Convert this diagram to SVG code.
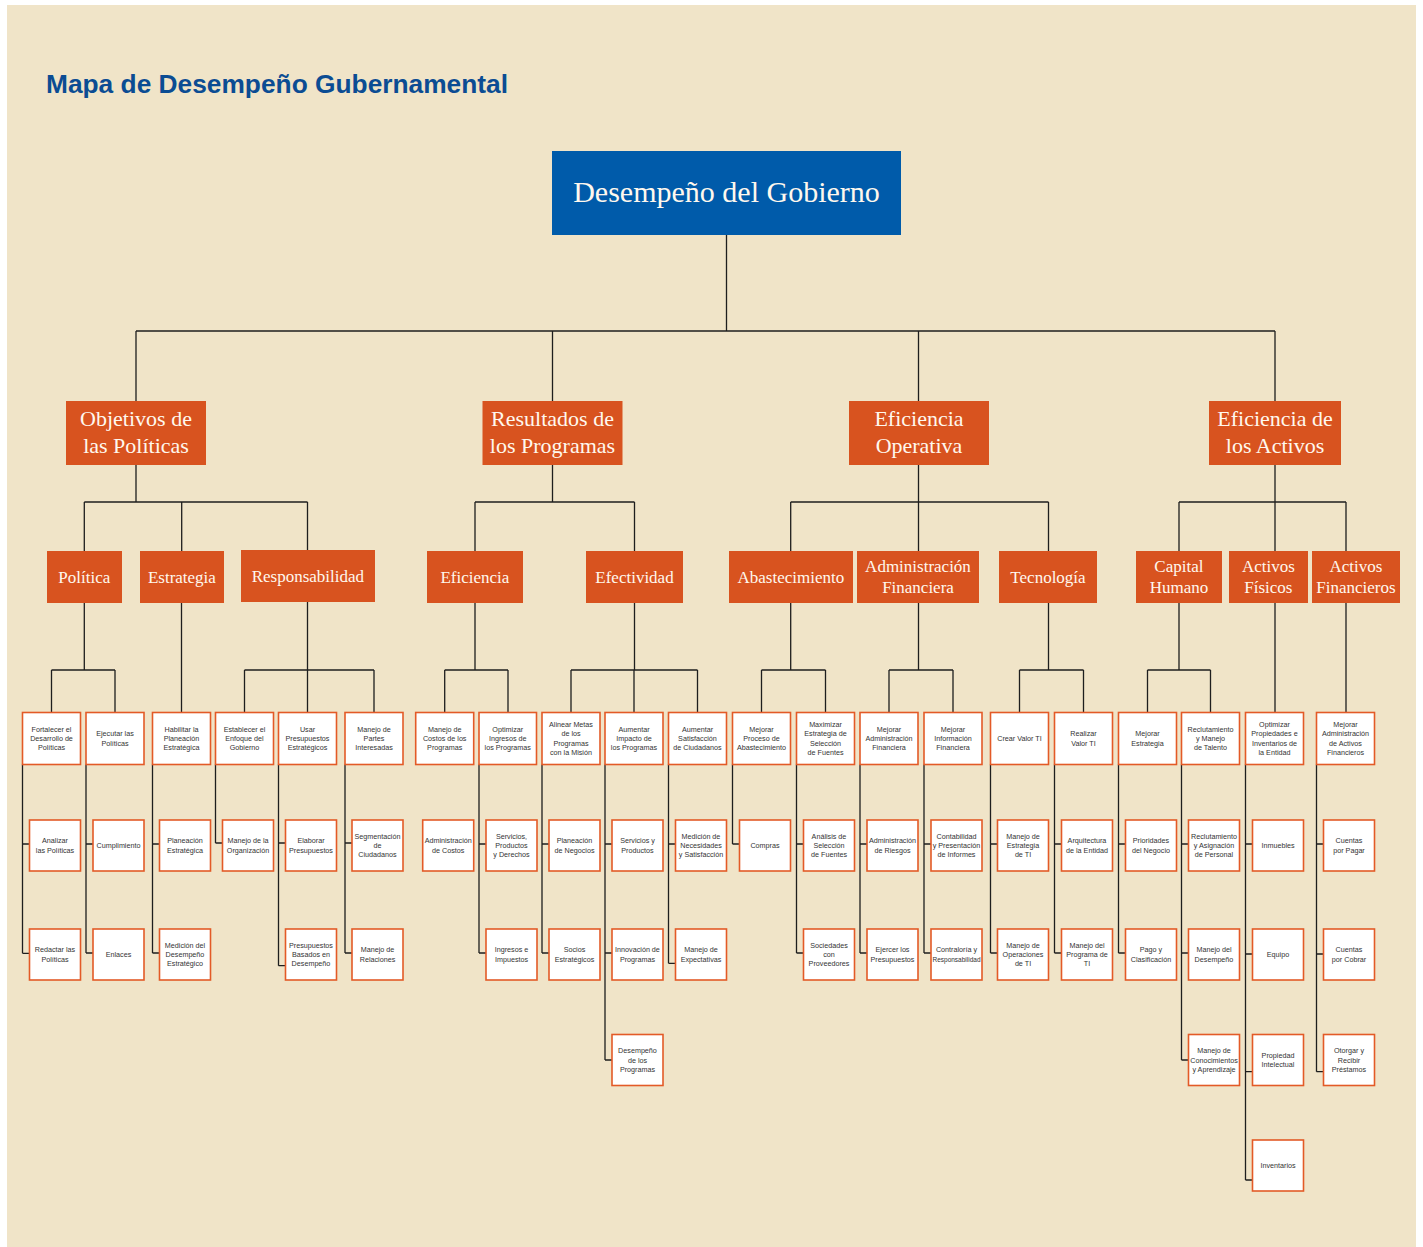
<svg xmlns="http://www.w3.org/2000/svg" width="1423" height="1247" viewBox="0 0 1423 1247">
<style>
.con{fill:none;stroke:#1e1e1e;stroke-width:1.3}
.box{fill:#ffffff;stroke:#E35A27;stroke-width:1.6}
.or{fill:#D8531F}
.sf{font-family:"Liberation Serif","Times New Roman",serif;fill:#FFF8EE;text-anchor:middle}
.l1{font-size:22px}
.l2{font-size:17px}
.t{font-family:"Liberation Sans",Arial,sans-serif;font-size:7.2px;fill:#333333;text-anchor:middle}
</style>
<rect x="0" y="0" width="1423" height="1247" fill="#ffffff"/>
<rect x="7" y="5" width="1409" height="1242" fill="#F0E4C8"/>
<text x="46" y="93" font-family="Liberation Sans, Arial, sans-serif" font-weight="bold" font-size="26.3" fill="#0B4C93" textLength="462">Mapa de Desempeño Gubernamental</text>

<g id="connectors" class="con">
<path d="M726.5,235V331M136,331H1275M136,331V401M552.5,331V401M918.5,331V401M1275,331V401"/>
<path d="M136,465V502M84.3,502H307.5M84.3,502V551M181.7,502V551M307.5,502V550"/>
<path d="M552.5,465V502M475,502H634.5M475,502V551M634.5,502V551"/>
<path d="M918.5,465V502M790.7,502H1048.5M790.7,502V551M918.5,502V551M1048.5,502V551"/>
<path d="M1275,465V502M1179,502H1346M1179,502V551M1275,502V551M1346,502V551"/>
<path d="M84.3,602.7V670M51.5,670H115M51.5,670V712.5M115,670V712.5"/>
<path d="M181.5,602.7V712.5"/>
<path d="M307.5,601.7V670M244.5,670H374M244.5,670V712.5M307.5,670V712.5M374,670V712.5"/>
<path d="M475,602.7V670M444.7,670H508M444.7,670V712.5M508,670V712.5"/>
<path d="M634.5,602.7V670M571,670H697.5M571,670V712.5M634,670V712.5M697.5,670V712.5"/>
<path d="M790.7,602.7V670M761.5,670H825.5M761.5,670V712.5M825.5,670V712.5"/>
<path d="M918.5,602.7V670M889,670H953M889,670V712.5M953,670V712.5"/>
<path d="M1048.5,602.7V670M1019.5,670H1083.5M1019.5,670V712.5M1083.5,670V712.5"/>
<path d="M1179,602.7V670M1147.5,670H1210.5M1147.5,670V712.5M1210.5,670V712.5"/>
<path d="M1275,602.7V712.5"/>
<path d="M1346,602.7V712.5"/>
<path d="M22.5,764.5V953.3M22.5,844H29.5M22.5,953.3H29.5"/>
<path d="M86,764.5V953M86,844H93M86,953H93"/>
<path d="M152.5,764.5V953M152.5,844H159.5M152.5,953H159.5"/>
<path d="M215.5,764.5V843M215.5,843H222.5"/>
<path d="M278.5,764.5V965.7M278.5,843H285.5M278.5,965.7H285.5"/>
<path d="M345,764.5V953M345,843H352M345,953H352"/>
<path d="M479,764.5V953M479,844H486M479,953H486"/>
<path d="M542,764.5V953M542,844H549M542,953H549"/>
<path d="M605,764.5V1060M605,844H612M605,953H612M605,1060H612"/>
<path d="M668.5,764.5V963.3M668.5,844H675.5M668.5,963.3H675.5"/>
<path d="M732.5,764.5V844M732.5,844H739.5"/>
<path d="M796.5,764.5V953M796.5,844H803.5M796.5,953H803.5"/>
<path d="M860,764.5V953M860,844H867M860,953H867"/>
<path d="M924,764.5V953M924,844H931M924,953H931"/>
<path d="M990.5,764.5V953M990.5,844H997.5M990.5,953H997.5"/>
<path d="M1054.5,764.5V953M1054.5,844H1061.5M1054.5,953H1061.5"/>
<path d="M1118.5,764.5V953M1118.5,844H1125.5M1118.5,953H1125.5"/>
<path d="M1181.5,764.5V1060M1181.5,844H1188.5M1181.5,953H1188.5M1181.5,1060H1188.5"/>
<path d="M1245.5,764.5V1180M1245.5,844H1252.5M1245.5,954H1252.5M1245.5,1071.7H1252.5M1245.5,1180H1252.5"/>
<path d="M1316.5,764.5V1071.7M1316.5,844H1323.5M1316.5,954H1323.5M1316.5,1071.7H1323.5"/>
</g>

<g id="root">
<rect x="552" y="151" width="349" height="84" fill="#005BAA"/>
<text class="sf" x="726.5" y="201.5" font-size="30">Desempeño del Gobierno</text>
</g>

<g id="objetivos"><rect class="or" x="66" y="401" width="140" height="64"/><text class="sf l1"><tspan x="136" y="425.7">Objetivos de</tspan><tspan x="136" y="453">las Políticas</tspan></text></g>
<g id="resultados"><rect class="or" x="482.5" y="401" width="140" height="64"/><text class="sf l1"><tspan x="552.5" y="425.7">Resultados de</tspan><tspan x="552.5" y="453">los Programas</tspan></text></g>
<g id="eficiencia-operativa"><rect class="or" x="849" y="401" width="140" height="64"/><text class="sf l1"><tspan x="919" y="425.7">Eficiencia</tspan><tspan x="919" y="453">Operativa</tspan></text></g>
<g id="eficiencia-activos"><rect class="or" x="1209" y="401" width="132" height="64"/><text class="sf l1"><tspan x="1275" y="425.7">Eficiencia de</tspan><tspan x="1275" y="453">los Activos</tspan></text></g>

<g id="politica"><rect class="or" x="47" y="551" width="75" height="52"/><text class="sf l2" x="84.3" y="582.5">Política</text></g>
<g id="estrategia"><rect class="or" x="140" y="551" width="84" height="52"/><text class="sf l2" x="181.9" y="582.5">Estrategia</text></g>
<g id="responsabilidad"><rect class="or" x="241" y="550" width="134" height="52"/><text class="sf l2" x="307.9" y="581.5">Responsabilidad</text></g>
<g id="eficiencia"><rect class="or" x="427" y="551" width="96" height="52"/><text class="sf l2" x="474.9" y="582.5">Eficiencia</text></g>
<g id="efectividad"><rect class="or" x="586" y="551" width="97" height="52"/><text class="sf l2" x="634.5" y="582.5">Efectividad</text></g>
<g id="abastecimiento"><rect class="or" x="729" y="551" width="124" height="52"/><text class="sf l2" x="790.9" y="582.5">Abastecimiento</text></g>
<g id="admin-financiera"><rect class="or" x="857" y="551" width="122" height="52"/><text class="sf l2"><tspan x="918" y="571.7">Administración</tspan><tspan x="918" y="593.3">Financiera</tspan></text></g>
<g id="tecnologia"><rect class="or" x="999" y="551" width="98" height="52"/><text class="sf l2" x="1048" y="582.5">Tecnología</text></g>
<g id="capital-humano"><rect class="or" x="1136" y="551" width="86" height="52"/><text class="sf l2"><tspan x="1178.9" y="571.7">Capital</tspan><tspan x="1178.9" y="593.3">Humano</tspan></text></g>
<g id="activos-fisicos"><rect class="or" x="1229" y="551" width="79" height="52"/><text class="sf l2"><tspan x="1268.4" y="571.7">Activos</tspan><tspan x="1268.4" y="593.3">Físicos</tspan></text></g>
<g id="activos-financieros"><rect class="or" x="1312" y="551" width="88" height="52"/><text class="sf l2"><tspan x="1355.9" y="571.7">Activos</tspan><tspan x="1355.9" y="593.3">Financieros</tspan></text></g>

<g id="p1"><rect class="box" x="22.5" y="712.5" width="58" height="52"/><text class="t"><tspan x="51.5" y="731.8">Fortalecer el</tspan><tspan x="51.5" y="741.1">Desarrollo de</tspan><tspan x="51.5" y="750.4">Políticas</tspan></text></g>
<g id="p2"><rect class="box" x="86" y="712.5" width="58" height="52"/><text class="t"><tspan x="115" y="736.45">Ejecutar las</tspan><tspan x="115" y="745.75">Políticas</tspan></text></g>
<g id="p3"><rect class="box" x="152.5" y="712.5" width="58" height="52"/><text class="t"><tspan x="181.5" y="731.8">Habilitar la</tspan><tspan x="181.5" y="741.1">Planeación</tspan><tspan x="181.5" y="750.4">Estratégica</tspan></text></g>
<g id="p4"><rect class="box" x="215.5" y="712.5" width="58" height="52"/><text class="t"><tspan x="244.5" y="731.8">Establecer el</tspan><tspan x="244.5" y="741.1">Enfoque del</tspan><tspan x="244.5" y="750.4">Gobierno</tspan></text></g>
<g id="p5"><rect class="box" x="278.5" y="712.5" width="58" height="52"/><text class="t"><tspan x="307.5" y="731.8">Usar</tspan><tspan x="307.5" y="741.1">Presupuestos</tspan><tspan x="307.5" y="750.4">Estratégicos</tspan></text></g>
<g id="p6"><rect class="box" x="345" y="712.5" width="58" height="52"/><text class="t"><tspan x="374" y="731.8">Manejo de</tspan><tspan x="374" y="741.1">Partes</tspan><tspan x="374" y="750.4">Interesadas</tspan></text></g>
<g id="p7"><rect class="box" x="415.7" y="712.5" width="58" height="52"/><text class="t"><tspan x="444.7" y="731.8">Manejo de</tspan><tspan x="444.7" y="741.1">Costos de los</tspan><tspan x="444.7" y="750.4">Programas</tspan></text></g>
<g id="p8"><rect class="box" x="479" y="712.5" width="57.5" height="52"/><text class="t"><tspan x="507.75" y="731.8">Optimizar</tspan><tspan x="507.75" y="741.1">Ingresos de</tspan><tspan x="507.75" y="750.4">los Programas</tspan></text></g>
<g id="p9"><rect class="box" x="542" y="712.5" width="58" height="52"/><text class="t"><tspan x="571" y="727.15">Alinear Metas</tspan><tspan x="571" y="736.45">de los</tspan><tspan x="571" y="745.75">Programas</tspan><tspan x="571" y="755.05">con la Misión</tspan></text></g>
<g id="p10"><rect class="box" x="605" y="712.5" width="58" height="52"/><text class="t"><tspan x="634" y="731.8">Aumentar</tspan><tspan x="634" y="741.1">Impacto de</tspan><tspan x="634" y="750.4">los Programas</tspan></text></g>
<g id="p11"><rect class="box" x="668.5" y="712.5" width="58" height="52"/><text class="t"><tspan x="697.5" y="731.8">Aumentar</tspan><tspan x="697.5" y="741.1">Satisfacción</tspan><tspan x="697.5" y="750.4">de Ciudadanos</tspan></text></g>
<g id="p12"><rect class="box" x="732.5" y="712.5" width="58" height="52"/><text class="t"><tspan x="761.5" y="731.8">Mejorar</tspan><tspan x="761.5" y="741.1">Proceso de</tspan><tspan x="761.5" y="750.4">Abastecimiento</tspan></text></g>
<g id="p13"><rect class="box" x="796.5" y="712.5" width="58" height="52"/><text class="t"><tspan x="825.5" y="727.15">Maximizar</tspan><tspan x="825.5" y="736.45">Estrategia de</tspan><tspan x="825.5" y="745.75">Selección</tspan><tspan x="825.5" y="755.05">de Fuentes</tspan></text></g>
<g id="p14"><rect class="box" x="860" y="712.5" width="58" height="52"/><text class="t"><tspan x="889" y="731.8">Mejorar</tspan><tspan x="889" y="741.1">Administración</tspan><tspan x="889" y="750.4">Financiera</tspan></text></g>
<g id="p15"><rect class="box" x="924" y="712.5" width="58" height="52"/><text class="t"><tspan x="953" y="731.8">Mejorar</tspan><tspan x="953" y="741.1">Información</tspan><tspan x="953" y="750.4">Financiera</tspan></text></g>
<g id="p16"><rect class="box" x="990.5" y="712.5" width="58" height="52"/><text class="t" x="1019.5" y="741.1">Crear Valor TI</text></g>
<g id="p17"><rect class="box" x="1054.5" y="712.5" width="58" height="52"/><text class="t"><tspan x="1083.5" y="736.45">Realizar</tspan><tspan x="1083.5" y="745.75">Valor TI</tspan></text></g>
<g id="p18"><rect class="box" x="1118.5" y="712.5" width="58" height="52"/><text class="t"><tspan x="1147.5" y="736.45">Mejorar</tspan><tspan x="1147.5" y="745.75">Estrategia</tspan></text></g>
<g id="p19"><rect class="box" x="1181.5" y="712.5" width="58" height="52"/><text class="t"><tspan x="1210.5" y="731.8">Reclutamiento</tspan><tspan x="1210.5" y="741.1">y Manejo</tspan><tspan x="1210.5" y="750.4">de Talento</tspan></text></g>
<g id="p20"><rect class="box" x="1245.5" y="712.5" width="58" height="52"/><text class="t"><tspan x="1274.5" y="727.15">Optimizar</tspan><tspan x="1274.5" y="736.45">Propiedades e</tspan><tspan x="1274.5" y="745.75">Inventarios de</tspan><tspan x="1274.5" y="755.05">la Entidad</tspan></text></g>
<g id="p21"><rect class="box" x="1316.5" y="712.5" width="58" height="52"/><text class="t"><tspan x="1345.5" y="727.15">Mejorar</tspan><tspan x="1345.5" y="736.45">Administración</tspan><tspan x="1345.5" y="745.75">de Activos</tspan><tspan x="1345.5" y="755.05">Financieros</tspan></text></g>

<g id="l1a"><rect class="box" x="29.5" y="820" width="51" height="51"/><text class="t"><tspan x="55" y="843.45">Analizar</tspan><tspan x="55" y="852.75">las Políticas</tspan></text></g>
<g id="l1b"><rect class="box" x="29.5" y="929" width="51" height="51"/><text class="t"><tspan x="55" y="952.45">Redactar las</tspan><tspan x="55" y="961.75">Políticas</tspan></text></g>
<g id="l2a"><rect class="box" x="93" y="820" width="51" height="51"/><text class="t" x="118.5" y="848.1">Cumplimiento</text></g>
<g id="l2b"><rect class="box" x="93" y="929" width="51" height="51"/><text class="t" x="118.5" y="957.1">Enlaces</text></g>
<g id="l3a"><rect class="box" x="159.5" y="820" width="51" height="51"/><text class="t"><tspan x="185" y="843.45">Planeación</tspan><tspan x="185" y="852.75">Estratégica</tspan></text></g>
<g id="l3b"><rect class="box" x="159.5" y="929" width="51" height="51"/><text class="t"><tspan x="185" y="947.8">Medición del</tspan><tspan x="185" y="957.1">Desempeño</tspan><tspan x="185" y="966.4">Estratégico</tspan></text></g>
<g id="l4a"><rect class="box" x="222.5" y="820" width="51" height="51"/><text class="t"><tspan x="248" y="843.45">Manejo de la</tspan><tspan x="248" y="852.75">Organización</tspan></text></g>
<g id="l5a"><rect class="box" x="285.5" y="820" width="51" height="51"/><text class="t"><tspan x="311" y="843.45">Elaborar</tspan><tspan x="311" y="852.75">Presupuestos</tspan></text></g>
<g id="l5b"><rect class="box" x="285.5" y="929" width="51" height="51"/><text class="t"><tspan x="311" y="947.8">Presupuestos</tspan><tspan x="311" y="957.1">Basados en</tspan><tspan x="311" y="966.4">Desempeño</tspan></text></g>
<g id="l6a"><rect class="box" x="352" y="820" width="51" height="51"/><text class="t"><tspan x="377.5" y="838.8">Segmentación</tspan><tspan x="377.5" y="848.1">de</tspan><tspan x="377.5" y="857.4">Ciudadanos</tspan></text></g>
<g id="l6b"><rect class="box" x="352" y="929" width="51" height="51"/><text class="t"><tspan x="377.5" y="952.45">Manejo de</tspan><tspan x="377.5" y="961.75">Relaciones</tspan></text></g>
<g id="l7a"><rect class="box" x="422.7" y="820" width="51" height="51"/><text class="t"><tspan x="448.2" y="843.45">Administración</tspan><tspan x="448.2" y="852.75">de Costos</tspan></text></g>
<g id="l8a"><rect class="box" x="486" y="820" width="51" height="51"/><text class="t"><tspan x="511.5" y="838.8">Servicios,</tspan><tspan x="511.5" y="848.1">Productos</tspan><tspan x="511.5" y="857.4">y Derechos</tspan></text></g>
<g id="l8b"><rect class="box" x="486" y="929" width="51" height="51"/><text class="t"><tspan x="511.5" y="952.45">Ingresos e</tspan><tspan x="511.5" y="961.75">Impuestos</tspan></text></g>
<g id="l9a"><rect class="box" x="549" y="820" width="51" height="51"/><text class="t"><tspan x="574.5" y="843.45">Planeación</tspan><tspan x="574.5" y="852.75">de Negocios</tspan></text></g>
<g id="l9b"><rect class="box" x="549" y="929" width="51" height="51"/><text class="t"><tspan x="574.5" y="952.45">Socios</tspan><tspan x="574.5" y="961.75">Estratégicos</tspan></text></g>
<g id="l10a"><rect class="box" x="612" y="820" width="51" height="51"/><text class="t"><tspan x="637.5" y="843.45">Servicios y</tspan><tspan x="637.5" y="852.75">Productos</tspan></text></g>
<g id="l10b"><rect class="box" x="612" y="929" width="51" height="51"/><text class="t"><tspan x="637.5" y="952.45">Innovación de</tspan><tspan x="637.5" y="961.75">Programas</tspan></text></g>
<g id="l10c"><rect class="box" x="612" y="1034.5" width="51" height="51"/><text class="t"><tspan x="637.5" y="1053.3">Desempeño</tspan><tspan x="637.5" y="1062.6">de los</tspan><tspan x="637.5" y="1071.9">Programas</tspan></text></g>
<g id="l11a"><rect class="box" x="675.5" y="820" width="51" height="51"/><text class="t"><tspan x="701" y="838.8">Medición de</tspan><tspan x="701" y="848.1">Necesidades</tspan><tspan x="701" y="857.4">y Satisfacción</tspan></text></g>
<g id="l11b"><rect class="box" x="675.5" y="929" width="51" height="51"/><text class="t"><tspan x="701" y="952.45">Manejo de</tspan><tspan x="701" y="961.75">Expectativas</tspan></text></g>
<g id="l12a"><rect class="box" x="739.5" y="820" width="51" height="51"/><text class="t" x="765" y="848.1">Compras</text></g>
<g id="l13a"><rect class="box" x="803.5" y="820" width="51" height="51"/><text class="t"><tspan x="829" y="838.8">Análisis de</tspan><tspan x="829" y="848.1">Selección</tspan><tspan x="829" y="857.4">de Fuentes</tspan></text></g>
<g id="l13b"><rect class="box" x="803.5" y="929" width="51" height="51"/><text class="t"><tspan x="829" y="947.8">Sociedades</tspan><tspan x="829" y="957.1">con</tspan><tspan x="829" y="966.4">Proveedores</tspan></text></g>
<g id="l14a"><rect class="box" x="867" y="820" width="51" height="51"/><text class="t"><tspan x="892.5" y="843.45">Administración</tspan><tspan x="892.5" y="852.75">de Riesgos</tspan></text></g>
<g id="l14b"><rect class="box" x="867" y="929" width="51" height="51"/><text class="t"><tspan x="892.5" y="952.45">Ejercer los</tspan><tspan x="892.5" y="961.75">Presupuestos</tspan></text></g>
<g id="l15a"><rect class="box" x="931" y="820" width="51" height="51"/><text class="t"><tspan x="956.5" y="838.8">Contabilidad</tspan><tspan x="956.5" y="848.1">y Presentación</tspan><tspan x="956.5" y="857.4">de Informes</tspan></text></g>
<g id="l15b"><rect class="box" x="931" y="929" width="51" height="51"/><text class="t"><tspan x="956.5" y="952.45">Contraloría y</tspan><tspan x="956.5" y="961.75" textLength="48" lengthAdjust="spacingAndGlyphs">Responsabilidad</tspan></text></g>
<g id="l16a"><rect class="box" x="997.5" y="820" width="51" height="51"/><text class="t"><tspan x="1023" y="838.8">Manejo de</tspan><tspan x="1023" y="848.1">Estrategia</tspan><tspan x="1023" y="857.4">de TI</tspan></text></g>
<g id="l16b"><rect class="box" x="997.5" y="929" width="51" height="51"/><text class="t"><tspan x="1023" y="947.8">Manejo de</tspan><tspan x="1023" y="957.1">Operaciones</tspan><tspan x="1023" y="966.4">de TI</tspan></text></g>
<g id="l17a"><rect class="box" x="1061.5" y="820" width="51" height="51"/><text class="t"><tspan x="1087" y="843.45">Arquitectura</tspan><tspan x="1087" y="852.75">de la Entidad</tspan></text></g>
<g id="l17b"><rect class="box" x="1061.5" y="929" width="51" height="51"/><text class="t"><tspan x="1087" y="947.8">Manejo del</tspan><tspan x="1087" y="957.1">Programa de</tspan><tspan x="1087" y="966.4">TI</tspan></text></g>
<g id="l18a"><rect class="box" x="1125.5" y="820" width="51" height="51"/><text class="t"><tspan x="1151" y="843.45">Prioridades</tspan><tspan x="1151" y="852.75">del Negocio</tspan></text></g>
<g id="l18b"><rect class="box" x="1125.5" y="929" width="51" height="51"/><text class="t"><tspan x="1151" y="952.45">Pago y</tspan><tspan x="1151" y="961.75">Clasificación</tspan></text></g>
<g id="l19a"><rect class="box" x="1188.5" y="820" width="51" height="51"/><text class="t"><tspan x="1214" y="838.8">Reclutamiento</tspan><tspan x="1214" y="848.1">y Asignación</tspan><tspan x="1214" y="857.4">de Personal</tspan></text></g>
<g id="l19b"><rect class="box" x="1188.5" y="929" width="51" height="51"/><text class="t"><tspan x="1214" y="952.45">Manejo del</tspan><tspan x="1214" y="961.75">Desempeño</tspan></text></g>
<g id="l19c"><rect class="box" x="1188.5" y="1034.5" width="51" height="51"/><text class="t"><tspan x="1214" y="1053.3">Manejo de</tspan><tspan x="1214" y="1062.6">Conocimientos</tspan><tspan x="1214" y="1071.9">y Aprendizaje</tspan></text></g>
<g id="l20a"><rect class="box" x="1252.5" y="820" width="51" height="51"/><text class="t" x="1278" y="848.1">Inmuebles</text></g>
<g id="l20b"><rect class="box" x="1252.5" y="929" width="51" height="51"/><text class="t" x="1278" y="957.1">Equipo</text></g>
<g id="l20c"><rect class="box" x="1252.5" y="1034.5" width="51" height="51"/><text class="t"><tspan x="1278" y="1057.95">Propiedad</tspan><tspan x="1278" y="1067.25">Intelectual</tspan></text></g>
<g id="l20d"><rect class="box" x="1252.5" y="1140" width="51" height="51"/><text class="t" x="1278" y="1168.1">Inventarios</text></g>
<g id="l21a"><rect class="box" x="1323.5" y="820" width="51" height="51"/><text class="t"><tspan x="1349" y="843.45">Cuentas</tspan><tspan x="1349" y="852.75">por Pagar</tspan></text></g>
<g id="l21b"><rect class="box" x="1323.5" y="929" width="51" height="51"/><text class="t"><tspan x="1349" y="952.45">Cuentas</tspan><tspan x="1349" y="961.75">por Cobrar</tspan></text></g>
<g id="l21c"><rect class="box" x="1323.5" y="1034.5" width="51" height="51"/><text class="t"><tspan x="1349" y="1053.3">Otorgar y</tspan><tspan x="1349" y="1062.6">Recibir</tspan><tspan x="1349" y="1071.9">Préstamos</tspan></text></g>
</svg>
